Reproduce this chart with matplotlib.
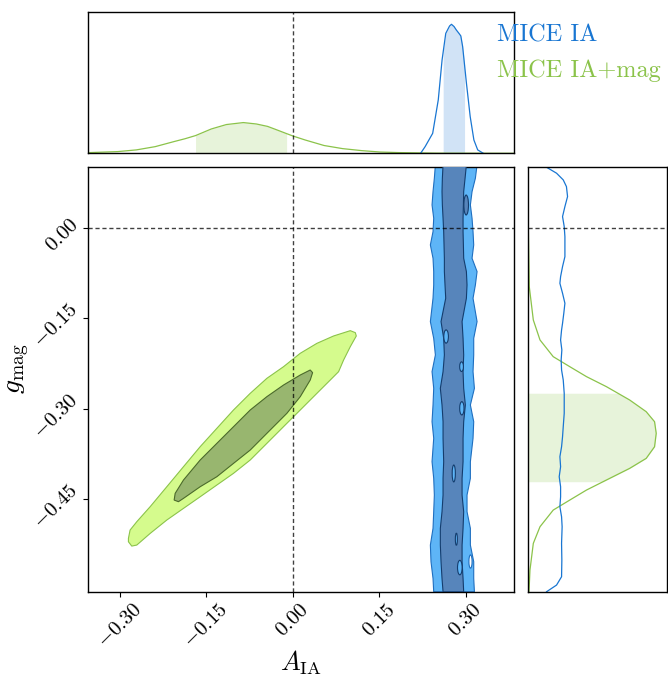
import numpy as np
import matplotlib
matplotlib.use("Agg")
import matplotlib.pyplot as plt
import matplotlib.transforms as mtransforms
from matplotlib.ticker import FixedLocator, FuncFormatter
from matplotlib.patches import Ellipse

plt.rcParams['mathtext.fontset'] = 'cm'
plt.rcParams['font.family'] = ['cmr10', 'DejaVu Serif']
plt.rcParams['axes.unicode_minus'] = False

# ---------------- data ----------------
labels = ["MICE IA", "MICE IA+mag"]
x_ticks = [-0.30, -0.15, 0.00, 0.15, 0.30]
y_ticks = [-0.45, -0.30, -0.15, 0.00]
truth_A = 0.0
truth_g = 0.0

# A_IA marginal (normalised height)
blue_ax_x = [0.2215, 0.2293, 0.2424, 0.2521, 0.2587, 0.2651, 0.2717, 0.2750, 0.2795,
             0.2834, 0.2880, 0.2912, 0.2944, 0.3010, 0.3075, 0.3139, 0.3205, 0.3302]
blue_ax_h = [0.0, 0.047, 0.141, 0.377, 0.659, 0.847, 0.899, 0.911, 0.895,
             0.871, 0.847, 0.829, 0.753, 0.494, 0.259, 0.094, 0.024, 0.0]
blue_ax_band = [0.2606, 0.2977]

green_ax_x = [-0.353, -0.304, -0.2717, -0.239, -0.207, -0.1871, -0.169, -0.1415, -0.1155,
              -0.086, -0.0634, -0.044, -0.0309, -0.011, 0.000, 0.0212, 0.054, 0.0862,
              0.119, 0.1514, 0.184, 0.25, 0.384]
green_ax_h = [0.005, 0.012, 0.024, 0.047, 0.082, 0.103, 0.125, 0.172, 0.203,
              0.217, 0.207, 0.190, 0.170, 0.139, 0.122, 0.094, 0.055, 0.033,
              0.019, 0.009, 0.005, 0.001, 0.0]
green_ax_band = [-0.169, -0.011]

# g_mag marginal (normalised width)
blue_gy_y = [0.1006, 0.0907, 0.0796, 0.0685, 0.0520, 0.0354, 0.0188, 0.0022, -0.0144,
             -0.0310, -0.0476, -0.0641, -0.0807, -0.0918, -0.1083, -0.1249, -0.1415,
             -0.1581, -0.1692, -0.1857, -0.2023, -0.2189, -0.2355, -0.2521, -0.2742,
             -0.2908, -0.3074, -0.3295, -0.3461, -0.3627, -0.3792, -0.3958, -0.4124,
             -0.4290, -0.4456, -0.4622, -0.4788, -0.4953, -0.5229, -0.5506, -0.5782,
             -0.5920, -0.6031]
blue_gy_w = [0.131, 0.203, 0.251, 0.274, 0.282, 0.263, 0.246, 0.258, 0.263,
             0.263, 0.263, 0.246, 0.232, 0.227, 0.246, 0.263, 0.255,
             0.246, 0.239, 0.232, 0.241, 0.236, 0.239, 0.251, 0.258,
             0.258, 0.258, 0.251, 0.246, 0.239, 0.227, 0.232, 0.222,
             0.232, 0.232, 0.227, 0.239, 0.243, 0.239, 0.241, 0.239,
             0.203, 0.131]

green_gy_y = [0.100, 0.002, -0.0973, -0.1526, -0.1857, -0.2134, -0.2300, -0.2465, -0.2631,
              -0.2852, -0.3046, -0.3212, -0.3405, -0.3627, -0.3820, -0.3986, -0.4179,
              -0.4345, -0.4511, -0.4677, -0.4953, -0.5229, -0.5671, -0.6031]
green_gy_w = [0.0, 0.0, 0.007, 0.036, 0.084, 0.179, 0.298, 0.418, 0.561,
              0.728, 0.847, 0.907, 0.919, 0.907, 0.847, 0.728, 0.561,
              0.418, 0.298, 0.179, 0.084, 0.036, 0.012, 0.005]
green_gy_band = [-0.4207, -0.274]

# 2D contours: MICE IA (vertical band)
band_y = [0.1045, 0.0824, 0.0602, 0.0381, 0.0160, -0.0061, -0.0282, -0.0503, -0.0724,
          -0.0945, -0.1166, -0.1553, -0.1830, -0.2106, -0.2382, -0.2659, -0.2935,
          -0.3212, -0.3488, -0.3875, -0.4151, -0.4428, -0.4704, -0.4980, -0.5257,
          -0.5533, -0.5810, -0.6031]
band_outer_left = [0.2471, 0.2453, 0.2430, 0.2413, 0.2442, 0.2430, 0.2384, 0.2430, 0.2442,
                   0.2442, 0.2430, 0.2384, 0.2442, 0.2471, 0.2413, 0.2442, 0.2430,
                   0.2413, 0.2442, 0.2413, 0.2442, 0.2453, 0.2442, 0.2430, 0.2384,
                   0.2395, 0.2430, 0.2442]
band_outer_right = [0.3194, 0.3165, 0.3107, 0.3078, 0.3107, 0.3124, 0.3136, 0.3107, 0.3194,
                    0.3165, 0.3124, 0.3194, 0.3136, 0.3136, 0.3124, 0.3148, 0.3078,
                    0.3136, 0.3124, 0.3078, 0.3078, 0.3020, 0.3020, 0.3078, 0.3078,
                    0.3136, 0.3136, 0.3148]
band_inner_left = [0.2604, 0.2592, 0.2586, 0.2592, 0.2604, 0.2615, 0.2621, 0.2627, 0.2627,
                   0.2638, 0.2650, 0.2569, 0.2615, 0.2627, 0.2604, 0.2557, 0.2586,
                   0.2604, 0.2604, 0.2615, 0.2604, 0.2604, 0.2586, 0.2557, 0.2557,
                   0.2569, 0.2586, 0.2604]
band_inner_right = [0.3009, 0.2986, 0.2962, 0.2957, 0.2951, 0.2951, 0.2957, 0.2962, 0.3009,
                    0.3020, 0.3009, 0.2934, 0.2951, 0.2962, 0.2951, 0.2962, 0.2991,
                    0.2962, 0.2951, 0.2951, 0.2934, 0.2934, 0.2962, 0.2951, 0.2934,
                    0.2934, 0.2951, 0.2962]

# small islands / holes inside the MICE IA contours (centre x, centre y, width, height)
light_hole_x = [0.2657, 0.2925, 0.2930, 0.2790, 0.2835, 0.2895]
light_hole_y = [-0.1800, -0.2300, -0.2990, -0.4070, -0.5160, -0.5630]
light_hole_w = [0.0080, 0.0065, 0.0075, 0.0055, 0.0035, 0.0080]
light_hole_h = [0.0220, 0.0160, 0.0220, 0.0280, 0.0200, 0.0240]
dark_island_x = [0.3005]
dark_island_y = [0.0380]
dark_island_w = [0.0080]
dark_island_h = [0.0330]
white_hole_x = [0.3080]
white_hole_y = [-0.5530]
white_hole_w = [0.0055]
white_hole_h = [0.0220]

# 2D contours: MICE IA+mag (ellipses)
green_outer_x = [-0.2854, -0.2825, -0.2709, -0.2477, -0.2188, -0.1899, -0.1609, -0.1320,
                 -0.1031, -0.0741, -0.0452, -0.0163, 0.0127, 0.0416, 0.0705, 0.0995,
                 0.1082, 0.1099, 0.0995, 0.0879, 0.0792, 0.0648, 0.0416, 0.0127,
                 -0.0105, -0.0452, -0.0741, -0.1031, -0.1320, -0.1609, -0.1899,
                 -0.2188, -0.2477, -0.2709, -0.2796, -0.2854]
green_outer_y = [-0.5146, -0.5008, -0.4870, -0.4621, -0.4290, -0.3958, -0.3626, -0.3322,
                 -0.3018, -0.2742, -0.2493, -0.2300, -0.2078, -0.1913, -0.1791, -0.1703,
                 -0.1736, -0.1791, -0.1968, -0.2189, -0.2383, -0.2521, -0.2742, -0.3018,
                 -0.3239, -0.3571, -0.3847, -0.4068, -0.4262, -0.4456, -0.4649,
                 -0.4842, -0.5064, -0.5257, -0.5274, -0.5202]
green_inner_x = [-0.2061, -0.2043, -0.1899, -0.1609, -0.1320, -0.1031, -0.0741, -0.0452,
                 -0.0163, 0.0127, 0.0300, 0.0341, 0.0300, 0.0127, -0.0105, -0.0452,
                 -0.0741, -0.1031, -0.1320, -0.1609, -0.1899, -0.1986]
green_inner_y = [-0.4511, -0.4400, -0.4179, -0.3847, -0.3571, -0.3295, -0.3018, -0.2797,
                 -0.2604, -0.2438, -0.2355, -0.2399, -0.2521, -0.2797, -0.3073, -0.3405,
                 -0.3682, -0.3903, -0.4124, -0.4290, -0.4483, -0.4538]

# ---------------- styling ----------------
blue = '#1976D2'
green = '#8BC34A'
blue_outer_fill, blue_outer_edge = '#5EB5F7', '#1F6FC0'
blue_inner_fill, blue_inner_edge = '#5785BB', '#143D6E'
green_outer_fill, green_outer_edge = '#D5FB8D', '#8BC34A'
green_inner_fill, green_inner_edge = '#98B66F', '#4B6A2B'

xlim = (-0.355, 0.384)
ylim = (-0.604, 0.1005)

fig = plt.figure(figsize=(6.68, 6.77), dpi=100)
W, H = 668.0, 677.0
ax_top = fig.add_axes([88.3 / W, 1 - 153.3 / H, 426 / W, 141.6 / H])
ax_main = fig.add_axes([88.3 / W, 1 - 592.3 / H, 426 / W, 425 / H])
ax_right = fig.add_axes([528.3 / W, 1 - 592.3 / H, 139.2 / W, 425 / H])

for a in (ax_top, ax_main, ax_right):
    for s in a.spines.values():
        s.set_linewidth(1.0)
        s.set_color('black')


def shade_x(ax, xs, hs, band, color):
    g = np.linspace(band[0], band[1], 300)
    v = np.interp(g, xs, hs)
    ax.fill_between(g, 0, v, color=color, alpha=0.2, lw=0)


def shade_y(ax, ys, ws, band, color):
    ys = np.asarray(ys)[::-1]
    ws = np.asarray(ws)[::-1]
    g = np.linspace(band[0], band[1], 300)
    v = np.interp(g, ys, ws)
    ax.fill_betweenx(g, 0, v, color=color, alpha=0.2, lw=0)


dash_kw = dict(color='k', ls='--', lw=1.0, alpha=0.75, dashes=(3, 2))

# top marginal
ax_top.plot(green_ax_x, green_ax_h, color=green, lw=0.9)
shade_x(ax_top, green_ax_x, green_ax_h, green_ax_band, green)
ax_top.plot(blue_ax_x, blue_ax_h, color=blue, lw=0.9)
shade_x(ax_top, blue_ax_x, blue_ax_h, blue_ax_band, blue)
ax_top.axvline(truth_A, **dash_kw)
ax_top.set_xlim(xlim)
ax_top.set_ylim(0, 1.0)
ax_top.set_xticks([])
ax_top.set_yticks([])

# right marginal
ax_right.plot(green_gy_w, green_gy_y, color=green, lw=0.9)
shade_y(ax_right, green_gy_y, green_gy_w, green_gy_band, green)
ax_right.plot(blue_gy_w, blue_gy_y, color=blue, lw=0.9)
ax_right.axhline(truth_g, **dash_kw)
ax_right.set_ylim(ylim)
ax_right.set_xlim(0, 1.0)
ax_right.set_xticks([])
ax_right.set_yticks([])

# main 2D panel
ox = list(band_outer_left) + list(band_outer_right)[::-1]
oy = list(band_y) + list(band_y)[::-1]
ax_main.fill(ox, oy, facecolor=blue_outer_fill, edgecolor=blue_outer_edge, lw=0.8, zorder=2)
ix = list(band_inner_left) + list(band_inner_right)[::-1]
ax_main.fill(ix, oy, facecolor=blue_inner_fill, edgecolor=blue_inner_edge, lw=0.8, zorder=3)


def add_ellipses(xs, ys, ws, hs, fc, ec):
    for x, y, w, h in zip(xs, ys, ws, hs):
        ax_main.add_patch(Ellipse((x, y), w, h, facecolor=fc, edgecolor=ec,
                                  lw=0.8, zorder=4))


add_ellipses(light_hole_x, light_hole_y, light_hole_w, light_hole_h,
             blue_outer_fill, blue_inner_edge)
add_ellipses(dark_island_x, dark_island_y, dark_island_w, dark_island_h,
             blue_inner_fill, blue_inner_edge)
add_ellipses(white_hole_x, white_hole_y, white_hole_w, white_hole_h,
             'white', blue_outer_edge)

ax_main.fill(green_outer_x, green_outer_y, facecolor=green_outer_fill,
             edgecolor=green_outer_edge, lw=0.8, zorder=2)
ax_main.fill(green_inner_x, green_inner_y, facecolor=green_inner_fill,
             edgecolor=green_inner_edge, lw=0.8, zorder=3)

ax_main.axvline(truth_A, zorder=5, **dash_kw)
ax_main.axhline(truth_g, zorder=5, **dash_kw)
ax_main.set_xlim(xlim)
ax_main.set_ylim(ylim)


def fmt(v, pos=None):
    return r'$' + f"{v:.2f}" + r'$'


ax_main.xaxis.set_major_locator(FixedLocator(x_ticks))
ax_main.yaxis.set_major_locator(FixedLocator(y_ticks))
ax_main.xaxis.set_major_formatter(FuncFormatter(fmt))
ax_main.yaxis.set_major_formatter(FuncFormatter(fmt))
ax_main.tick_params(axis='both', direction='out', length=3.5, width=0.8, labelsize=15)
ax_main.tick_params(axis='x', pad=2.5)
ax_main.tick_params(axis='y', pad=1.0)
for t in ax_main.get_xticklabels():
    t.set_rotation(45)
    t.set_ha('center')
shift = mtransforms.ScaledTranslation(0, -5.5 / 72, fig.dpi_scale_trans)
for tk in ax_main.yaxis.get_major_ticks():
    lab = tk.label1
    lab.set_rotation(45)
    lab.set_ha('right')
    lab.set_va('center')
    lab.set_transform(lab.get_transform() + shift)

ax_main.set_xlabel(r'$A_{\rm IA}$', fontsize=19)
ax_main.set_ylabel(r'$g_{\rm mag}$', fontsize=20)
ax_main.xaxis.set_label_coords(0.5, -0.133)
ax_main.yaxis.set_label_coords(-0.135, 0.527)

# legend texts
fig.text(497.3 / W, 1 - 41.0 / H, labels[0], color=blue, fontsize=17.5,
         family=['cmr10', 'DejaVu Serif'], va='baseline', ha='left')
fig.text(497.3 / W, 1 - 77.5 / H, labels[1], color=green, fontsize=17.5,
         family=['cmr10', 'DejaVu Serif'], va='baseline', ha='left')

fig.savefig('out.png', dpi=100)
